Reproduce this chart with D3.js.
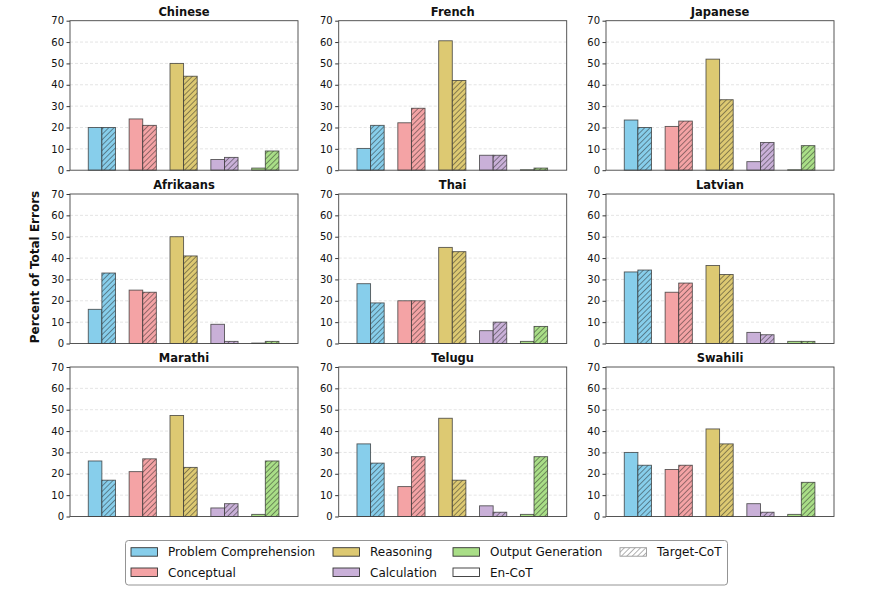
<!DOCTYPE html>
<html><head><meta charset="utf-8">
<script src="https://cdn.jsdelivr.net/npm/d3@7"></script>
<style>body{margin:0;background:#fff;} svg{display:block;font-family:"DejaVu Sans",sans-serif;}</style>
</head><body><svg id="c" width="879" height="592"></svg>
<script>
const languages = ["Chinese","French","Japanese","Afrikaans","Thai","Latvian","Marathi","Telugu","Swahili"];
const categories = ["Problem Comprehension","Conceptual","Reasoning","Calculation","Output Generation"];
const colors = ["#87CEEB","#F4A3A5","#DDC972","#C9B0D8","#A9DE87"];
const yTicks = [0,10,20,30,40,50,60,70];
// En-CoT values per language (category order above)
const enCoT = [
  [20,24,50,5,1],
  [10.2,22.2,60.6,7,0.2],
  [23.5,20.5,52,4,0.2],
  [16,25,50,9,0.2],
  [28,20,45,6,1],
  [33.5,24,36.5,5.2,1],
  [26,21,47.3,4,1],
  [34,14,46,5,1],
  [30,22,41,6,1]
];
// Target-CoT values
const targetCoT = [
  [20,21,44,6,9],
  [21,29,42,7,1],
  [20,23,33,13,11.5],
  [33,24,41,1,1],
  [19,20,43,10,8],
  [34.4,28.3,32.3,4.1,1],
  [17,27,23,6,26],
  [25,28,17,2,28],
  [24,24,34,2,16]
];

const svg = d3.select("#c");
const defs = svg.append("defs");
function hatch(id, stroke){
  const s = 3.8;
  const p = defs.append("pattern").attr("id",id).attr("patternUnits","userSpaceOnUse")
    .attr("width",s).attr("height",s).attr("patternTransform","rotate(45)");
  p.append("line").attr("x1",0).attr("y1",0).attr("x2",0).attr("y2",s)
    .attr("stroke",stroke).attr("stroke-width",0.9);
}
hatch("h","#222");
hatch("hl","#555");

const colX = [70, 338.7, 606];
const rowY = [20.7, 194, 367];
const W = 228, H = 149.5;
const bw = 13.6;

languages.forEach((lang,i)=>{
  const gx = colX[i%3], gy = rowY[Math.floor(i/3)];
  const g = svg.append("g").attr("transform",`translate(${gx},${gy})`);
  const x = d3.scaleLinear().domain([-0.78,4.8]).range([0,W]);
  const y = d3.scaleLinear().domain([0,70]).range([H,0]);
  g.append("g").selectAll("line").data(yTicks.filter(t=>t>0&&t<70)).join("line")
    .attr("x1",0).attr("x2",W).attr("y1",d=>y(d)).attr("y2",d=>y(d))
    .attr("stroke","#d8d8d8").attr("stroke-width",0.7).attr("stroke-dasharray","3,2");
  categories.forEach((c,k)=>{
    const cx = x(k);
    const e = enCoT[i][k], t = targetCoT[i][k];
    g.append("rect").attr("x",cx-bw).attr("width",bw).attr("y",y(e)).attr("height",y(0)-y(e))
      .attr("fill",colors[k]).attr("stroke","#333").attr("stroke-opacity",0.8).attr("stroke-width",0.9);
    g.append("rect").attr("x",cx).attr("width",bw).attr("y",y(t)).attr("height",y(0)-y(t))
      .attr("fill",colors[k]);
    g.append("rect").attr("x",cx).attr("width",bw).attr("y",y(t)).attr("height",y(0)-y(t))
      .attr("fill","url(#h)").attr("stroke","#333").attr("stroke-opacity",0.8).attr("stroke-width",0.9);
  });
  const ax = g.append("g").call(d3.axisLeft(y).tickValues(yTicks).tickSize(3.5).tickPadding(2.5));
  ax.select(".domain").remove();
  ax.selectAll("text").attr("font-size",10).attr("fill","#111").attr("font-family","DejaVu Sans");
  ax.selectAll("line").attr("stroke","#333");
  g.append("rect").attr("width",W).attr("height",H).attr("fill","none").attr("stroke","#444").attr("stroke-width",0.9);
  g.append("text").attr("x",W/2).attr("y",-5).attr("text-anchor","middle")
    .attr("font-weight","bold").attr("font-size",11.5).attr("fill","#111").text(lang);
});

svg.append("text").attr("transform","translate(39,267) rotate(-90)").attr("text-anchor","middle")
  .attr("font-weight","bold").attr("font-size",12).attr("fill","#111").text("Percent of Total Errors");

// legend
const lg = svg.append("g");
lg.append("rect").attr("x",125.5).attr("y",540.5).attr("width",602).attr("height",44.5).attr("rx",3)
  .attr("fill","#fff").attr("stroke","#888").attr("stroke-width",0.9);
const legendItems = [
  {label:categories[0], fill:colors[0], col:0,row:0},
  {label:categories[1], fill:colors[1], col:0,row:1},
  {label:categories[2], fill:colors[2], col:1,row:0},
  {label:categories[3], fill:colors[3], col:1,row:1},
  {label:categories[4], fill:colors[4], col:2,row:0},
  {label:"En-CoT", fill:"#fff", col:2,row:1},
  {label:"Target-CoT", fill:"url(#hl)", col:3,row:0}
];
const colPos = [131, 333, 453, 620];
const rowPos = [547.7, 568];
legendItems.forEach(d=>{
  const px = colPos[d.col], py = rowPos[d.row];
  lg.append("rect").attr("x",px).attr("y",py).attr("width",26.5).attr("height",8.5)
    .attr("fill",d.fill).attr("stroke",d.label==="Target-CoT"?"#999":"#333").attr("stroke-width",0.9);
  lg.append("text").attr("x",px+37).attr("y",py+8.6).attr("font-size",12).attr("fill","#111").text(d.label);
});
</script></body></html>
